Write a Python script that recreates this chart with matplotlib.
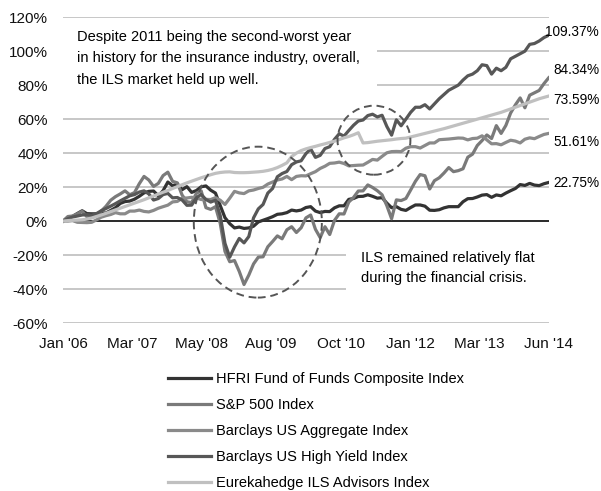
import matplotlib
matplotlib.use("Agg")
import matplotlib.pyplot as plt
from matplotlib.patches import Ellipse, Rectangle
from matplotlib.transforms import blended_transform_factory
import numpy as np

plt.rcParams['font.family'] = ['Liberation Sans', 'DejaVu Sans']

# monthly cumulative returns (%), Dec '05 = 0 ... Jun '14
hfri = [0, 2.2, 2.8, 4.5, 6.1, 4.4, 4.3, 4.3, 4.8, 4.8, 6.3, 7.9, 10.4,
        11.5, 11.8, 12.9, 14.6, 16.6, 17.5, 17.7, 14.9, 17.9, 23.0, 20.8, 21.8,
        18.5, 20.3, 16.9, 18.0, 20.2, 20.7, 18.2, 16.5, 9.2, 2.0, -1.5, -4.0,
        -3.5, -4.3, -4.0, -3.0, -0.5, 0.5, 1.5, 2.6, 4.0, 4.3, 5.0, 6.5,
        6.0, 6.5, 8.0, 8.5, 5.9, 5.0, 5.7, 5.6, 7.8, 9.0, 9.0, 12.8,
        13.3, 14.5, 14.6, 15.5, 14.6, 13.5, 13.8, 10.6, 7.9, 8.5, 6.9, 6.3,
        8.0, 9.5, 9.5, 8.8, 6.4, 6.3, 6.7, 7.8, 8.5, 8.5, 8.5, 11.4,
        13.2, 13.3, 14.2, 15.3, 15.6, 14.0, 15.4, 14.9, 16.5, 17.9, 19.2, 21.5,
        21.0, 22.2, 21.2, 20.9, 22.0, 22.75]
sp500 = [0, 2.7, 3.0, 4.3, 5.8, 2.6, 2.8, 3.6, 5.9, 8.7, 12.3, 14.4, 16.0,
         17.8, 15.5, 16.8, 22.0, 26.3, 24.2, 20.4, 22.2, 26.8, 28.8, 23.4, 22.5,
         15.3, 11.4, 10.9, 16.4, 17.8, 7.9, 6.9, 8.5, -1.3, -17.8, -23.9, -23.2,
         -29.6, -37.3, -31.8, -25.2, -21.2, -21.0, -15.1, -12.0, -8.7, -10.4, -5.1, -3.3,
         -6.7, -3.9, 1.9, 3.6, -4.8, -9.7, -3.3, -7.9, 0.4, 4.3, 4.2, 11.2,
         13.9, 17.7, 17.8, 21.3, 19.8, 17.9, 15.5, 9.1, 1.4, 12.5, 12.1, 13.3,
         18.3, 23.4, 27.4, 26.7, 18.9, 23.8, 25.5, 28.3, 31.5, 29.1, 29.7, 30.8,
         37.6, 39.4, 44.5, 47.4, 50.7, 48.6, 56.2, 51.6, 56.3, 63.6, 68.4, 72.5,
         66.7, 74.1, 75.5, 76.9, 80.9, 84.34]
agg = [0, 0.0, 0.3, -0.7, -0.8, -0.9, -0.7, 0.7, 2.3, 3.2, 3.9, 5.0, 4.3,
       4.3, 5.9, 5.9, 6.5, 5.7, 5.4, 6.3, 7.6, 8.5, 9.4, 11.3, 11.6,
       13.5, 13.6, 14.0, 13.6, 12.7, 12.8, 12.7, 13.8, 12.3, 9.8, 13.5, 17.5,
       16.6, 16.2, 17.8, 18.3, 19.2, 19.9, 21.8, 23.0, 24.2, 24.8, 26.3, 24.4,
       26.3, 26.7, 26.6, 27.9, 29.1, 31.0, 32.3, 34.0, 34.2, 34.7, 33.9, 32.5,
       32.7, 32.9, 33.0, 34.6, 36.3, 35.9, 38.1, 40.2, 40.9, 41.0, 40.9, 42.9,
       43.8, 43.8, 43.0, 44.5, 46.0, 46.0, 47.9, 48.1, 48.3, 48.6, 48.9, 48.8,
       47.8, 48.6, 48.8, 50.2, 47.8, 45.5, 45.6, 44.9, 46.3, 47.6, 47.1, 46.0,
       48.2, 49.0, 48.5, 49.8, 51.0, 51.61]
high_yield = [0, 1.4, 2.4, 3.0, 3.6, 3.8, 3.5, 4.4, 6.1, 7.4, 8.8, 10.3, 11.9,
              13.4, 14.9, 15.6, 17.1, 17.8, 16.0, 12.4, 13.3, 15.6, 16.3, 13.7, 13.9,
              12.4, 9.3, 9.4, 13.8, 15.7, 12.7, 11.2, 12.3, 3.3, -13.1, -21.2, -15.2,
              -10.2, -12.8, -9.1, 1.9, 7.2, 9.8, 16.5, 19.2, 26.1, 28.0, 29.2, 33.2,
              34.8, 35.5, 39.7, 42.5, 37.5, 38.7, 42.7, 43.8, 48.1, 51.4, 50.0, 53.3,
              56.4, 58.9, 59.5, 62.1, 62.9, 61.3, 62.3, 55.7, 50.6, 59.6, 56.1, 60.0,
              64.0, 67.0, 67.0, 68.5, 66.0, 69.0, 72.0, 74.5, 77.0, 78.5, 80.0, 83.0,
              85.5, 86.5, 88.5, 92.0, 91.5, 86.5, 90.0, 88.5, 90.5, 95.5, 97.0, 98.5,
              100.0, 104.0, 104.5, 106.0, 108.0, 109.37]
ils = [0, 0.3, 0.5, 0.6, 0.8, 1.2, 1.8, 2.7, 3.6, 4.6, 5.6, 6.6, 7.6,
       8.6, 9.6, 10.6, 11.6, 12.6, 13.7, 14.8, 15.9, 17.0, 18.0, 19.2, 20.3,
       21.4, 22.5, 23.5, 24.5, 25.5, 26.4, 27.3, 28.1, 28.6, 28.9, 29.0, 28.6,
       28.5, 28.5, 28.6, 28.8, 29.0, 29.3, 29.8, 30.5, 31.5, 32.8, 34.3, 38.0,
       40.0, 41.5, 42.5, 43.3, 44.0, 44.8, 45.5, 46.3, 47.0, 48.0, 49.0, 49.8,
       50.8, 52.0, 46.0, 46.2, 46.6, 47.0, 47.3, 47.6, 47.9, 48.3, 48.6, 48.8,
       49.5, 50.2, 50.9, 51.6, 52.3, 53.0, 53.7, 54.4, 55.2, 56.0, 56.8, 57.6,
       58.4, 59.2, 60.0, 60.8, 61.6, 62.4, 63.2, 64.0, 65.0, 66.0, 67.0, 68.0,
       69.0, 70.0, 71.0, 72.0, 72.8, 73.59]

series_names = ["HFRI Fund of Funds Composite Index", "S&P 500 Index",
                "Barclays US Aggregate Index", "Barclays US High Yield Index",
                "Eurekahedge ILS Advisors Index"]
colors = ["#333333", "#7a7a7a", "#8a8a8a", "#575757", "#c0c0c0"]
end_labels = ["22.75%", "84.34%", "51.61%", "109.37%", "73.59%"]
date_labels = ["Jan '06", "Mar '07", "May '08", "Aug '09", "Oct '10", "Jan '12", "Mar '13", "Jun '14"]

fig = plt.figure(figsize=(6.01, 4.91), dpi=100)
ax = fig.add_axes([0.105, 0.342, 0.808, 0.623])

months = np.arange(len(hfri))
all_series = [hfri, sp500, agg, high_yield, ils]
for vals, name, c in zip(all_series, series_names, colors):
    ax.plot(months, vals, color=c, lw=2.3, label=name, zorder=3)

ax.set_xlim(0, months[-1])
ax.set_ylim(-60, 120)
ax.set_yticks(np.arange(-60, 121, 20))
ax.set_yticklabels([f"{v}%" for v in range(-60, 121, 20)])
ax.set_xticks(np.linspace(0, months[-1], len(date_labels)))
ax.set_xticklabels(date_labels)
ax.tick_params(length=0, labelsize=11, colors="#111111")
ax.tick_params(axis="y", pad=11)
ax.tick_params(axis="x", pad=10)
for s in ax.spines.values():
    s.set_visible(False)
ax.yaxis.grid(True, color="#bdbdbd", lw=1.2, zorder=0)
ax.set_axisbelow(True)
ax.axhline(0, color="black", lw=1.1, zorder=2)

# white panels that break the gridlines behind the notes
ax.add_patch(Rectangle((0, 68), 66, 42, facecolor="white", edgecolor="none", zorder=1))
ax.add_patch(Rectangle((59.5, -50), 44, 38, facecolor="white", edgecolor="none", zorder=1))

# end-of-line value labels, right-aligned at the figure edge
trans = blended_transform_factory(fig.transFigure, ax.transData)
label_y = [22.4, 88.8, 46.5, 111.0, 71.0]
for lab, ly in zip(end_labels, label_y):
    ax.text(0.997, ly, lab, fontsize=9.8, va="center", ha="right",
            transform=trans, clip_on=False)

# annotations
ax.text(3.0, 112.5, "Despite 2011 being the second-worst year\nin history for the insurance industry, overall,\nthe ILS market held up well.",
        fontsize=10.5, va="top", ha="left", linespacing=1.68, zorder=2)
ax.text(62.6, -17.8, "ILS remained relatively flat\nduring the financial crisis.",
        fontsize=10.5, va="top", ha="left", linespacing=1.55, zorder=2)

ax.add_patch(Ellipse((40.9, -0.6), 26.9, 88.8, fill=False, ls=(0, (4, 2.5)),
                     lw=1.4, edgecolor="#555555", zorder=4))
ax.add_patch(Ellipse((65.3, 47.6), 15.3, 40.6, fill=False, ls=(0, (4, 2.5)),
                     lw=1.4, edgecolor="#555555", zorder=4))

fig.legend(loc="upper left", bbox_to_anchor=(0.267, 0.257), frameon=False,
           fontsize=10.5, handlelength=2.95, handletextpad=0.35, labelspacing=0.82,
           borderpad=0)

fig.savefig("out.png", dpi=100)
